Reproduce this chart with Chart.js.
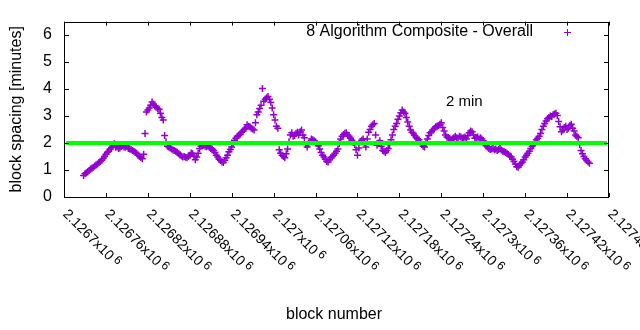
<!DOCTYPE html>
<html><head><meta charset="utf-8">
<script src="https://cdn.jsdelivr.net/npm/chart.js@4.4.0/dist/chart.umd.min.js"></script>
<style>html,body{margin:0;padding:0;background:#fff;}#wrap{width:640px;height:330px;}</style>
</head><body><div id="wrap"><canvas id="c" width="640" height="330"></canvas></div>
<script>
// ---- data ----
const firstBlock = 2126728;
const blockStep = 2;
const spacingMinutes = [
0.80,0.86,0.90,0.93,0.98,1.04,1.07,1.10,1.15,1.19,
1.22,1.28,1.32,1.36,1.43,1.50,1.58,1.66,1.70,1.78,
1.83,1.88,1.97,1.84,1.86,1.80,1.82,1.87,1.90,1.85,
1.84,1.94,1.80,1.78,1.76,1.72,1.70,1.66,1.62,1.55,
1.50,1.46,1.42,1.58,2.35,3.15,3.22,3.30,3.40,3.52,
3.45,3.38,3.33,3.28,3.25,3.10,2.95,2.85,2.28,2.05,
1.88,1.85,1.82,1.78,1.74,1.72,1.70,1.66,1.60,1.56,
1.52,1.48,1.50,1.47,1.45,1.50,1.55,1.63,1.60,1.52,
1.38,1.48,1.62,1.80,1.88,1.95,1.92,1.88,1.86,1.90,
1.84,1.80,1.78,1.72,1.65,1.55,1.48,1.40,1.35,1.30,
1.28,1.36,1.45,1.55,1.68,1.76,1.85,1.98,2.10,2.18,
2.25,2.28,2.32,2.40,2.45,2.50,2.55,2.68,2.62,2.60,
2.55,2.52,2.48,2.75,3.05,3.15,3.28,3.40,4.02,3.55,
3.62,3.68,3.72,3.62,3.50,3.30,3.05,2.85,2.62,2.55,
1.75,1.62,1.55,1.50,1.45,1.60,1.78,2.05,2.30,2.38,
2.25,2.28,2.35,2.40,2.30,2.42,2.48,2.30,2.20,1.95,
1.85,1.98,2.05,2.15,2.12,2.08,2.05,1.98,1.90,1.78,
1.65,1.55,1.48,1.40,1.32,1.30,1.38,1.45,1.50,1.55,
1.62,1.70,1.78,1.98,2.15,2.25,2.32,2.36,2.38,2.30,
2.25,2.18,2.10,2.02,1.95,1.75,1.55,1.82,2.05,2.10,
2.15,2.00,1.85,2.15,2.40,2.50,2.62,2.68,2.72,2.30,
1.92,2.00,2.08,1.88,1.72,1.70,1.65,1.72,1.80,1.95,
2.12,2.30,2.50,2.62,2.72,2.88,3.00,3.12,3.22,3.15,
3.10,2.95,2.78,2.62,2.48,2.40,2.35,2.28,2.20,2.15,
2.12,2.05,1.95,1.88,1.85,2.00,2.15,2.28,2.38,2.42,
2.48,2.55,2.60,2.62,2.65,2.70,2.75,2.58,2.45,2.30,
2.22,2.20,2.18,2.12,2.15,2.20,2.25,2.20,2.18,2.25,
2.22,2.18,2.20,2.22,2.15,2.28,2.38,2.45,2.42,2.30,
2.18,2.20,2.22,2.15,2.20,2.15,2.08,1.98,1.90,1.85,
1.80,1.76,1.78,1.80,1.75,1.78,1.72,1.76,1.80,1.74,
1.70,1.68,1.65,1.62,1.58,1.52,1.48,1.40,1.32,1.22,
1.12,1.10,1.18,1.24,1.30,1.38,1.48,1.55,1.62,1.70,
1.80,1.88,1.95,2.02,2.12,2.18,2.25,2.35,2.50,2.62,
2.72,2.82,2.90,2.95,3.00,2.98,3.05,3.08,3.10,3.02,
2.80,2.60,2.42,2.48,2.58,2.62,2.50,2.55,2.65,2.70,
2.55,2.45,2.30,2.25,2.20,1.95,1.72,1.60,1.50,1.42,
1.35,1.30,1.25
];
const targetMinutes = 2;
const targetLabel = '2 min';
const seriesLabel = '8 Algorithm Composite - Overall';
const xMin = 2126700, xMax = 2127480;
const xTickValues = [2126700,2126760,2126820,2126880,2126940,2127000,2127060,2127120,2127180,2127240,2127300,2127360,2127420,2127480];
const xTickLabels = ['2.1267','2.12676','2.12682','2.12688','2.12694','2.127','2.12706','2.12712','2.12718','2.12724','2.1273','2.12736','2.12742','2.12748'];
const yTickValues = [0,1,2,3,4,5,6];
const yMin = 0, yMax = 6.5;
const xTitle = 'block number';
const yTitle = 'block spacing [minutes]';

const FONT = "'Liberation Sans', Arial, sans-serif";
const PURPLE = '#9400d3';

const points = spacingMinutes.map((v, i) => ({x: firstBlock + i * blockStep, y: v}));

const decor = {
  id: 'decor',
  afterDraw(chart) {
    const ctx = chart.ctx, a = chart.chartArea;
    const xs = chart.scales.x, ys = chart.scales.y;
    ctx.save();
    ctx.strokeStyle = '#000';
    ctx.lineWidth = 1;
    ctx.strokeRect(Math.round(a.left) + 0.5, Math.round(a.top) + 0.5, Math.round(a.right - a.left) - 1, Math.round(a.bottom - a.top));
    ctx.beginPath();
    yTickValues.forEach(v => {
      const y = Math.round(ys.getPixelForValue(v)) + 0.5;
      ctx.moveTo(a.left, y); ctx.lineTo(a.left + 5, y);
      ctx.moveTo(a.right, y); ctx.lineTo(a.right - 5, y);
    });
    xTickValues.forEach(v => {
      const x = Math.round(xs.getPixelForValue(v)) + 0.5;
      ctx.moveTo(x, a.bottom); ctx.lineTo(x, a.bottom - 4);
      ctx.moveTo(x, a.top); ctx.lineTo(x, a.top + 4);
    });
    ctx.stroke();
    // x tick labels rotated
    ctx.fillStyle = '#000';
    xTickValues.forEach((v, i) => {
      const x = xs.getPixelForValue(v);
      ctx.save();
      ctx.translate(x + 1, a.bottom + 15);
      ctx.rotate(Math.PI / 4);
      ctx.textAlign = 'left';
      ctx.textBaseline = 'middle';
      ctx.font = '14px ' + FONT;
      const main = xTickLabels[i] + 'x10';
      ctx.fillText(main, 0, 0);
      const w = ctx.measureText(main + ' ').width;
      ctx.font = '12px ' + FONT;
      ctx.fillText('6', w - 1, -3);
      ctx.restore();
    });
    // titles
    ctx.font = '16px ' + FONT;
    ctx.textAlign = 'center';
    ctx.textBaseline = 'middle';
    ctx.fillText(xTitle, 334, 315);
    ctx.save();
    ctx.translate(17, (a.top + a.bottom) / 2);
    ctx.rotate(-Math.PI / 2);
    ctx.fillText(yTitle, 0, 0);
    ctx.restore();
    // legend
    ctx.textAlign = 'right';
    ctx.fillText(seriesLabel, 533, 32);
    ctx.strokeStyle = PURPLE;
    ctx.beginPath();
    ctx.moveTo(564, 32.5); ctx.lineTo(571, 32.5);
    ctx.moveTo(567.5, 29); ctx.lineTo(567.5, 36);
    ctx.stroke();
    // target label
    ctx.textAlign = 'left';
    ctx.fillStyle = '#000';
    ctx.font = '15px ' + FONT;
    ctx.fillText(targetLabel, 446, 102);
    ctx.restore();
  }
};

new Chart(document.getElementById('c'), {
  type: 'scatter',
  data: {
    datasets: [
      {
        type: 'line',
        label: targetLabel,
        data: [{x: xMin + 3, y: targetMinutes}, {x: xMax - 3, y: targetMinutes}],
        borderColor: '#00ff00',
        borderWidth: 4,
        pointRadius: 0,
        fill: false,
        order: 0
      },
      {
        label: seriesLabel,
        data: points,
        showLine: false,
        pointStyle: 'cross',
        pointRadius: 3.5,
        pointHoverRadius: 3.5,
        borderColor: PURPLE,
        backgroundColor: PURPLE,
        borderWidth: 1.5,
        order: 1
      }
    ]
  },
  options: {
    responsive: false,
    animation: false,
    devicePixelRatio: 1,
    layout: {padding: {left: 0, top: 19, right: 31, bottom: 0}},
    plugins: {legend: {display: false}, tooltip: {enabled: false}},
    events: [],
    scales: {
      x: {
        type: 'linear', min: xMin, max: xMax,
        ticks: {display: false},
        grid: {display: false, drawTicks: false},
        border: {display: false},
        afterFit(s) { s.height = 133; }
      },
      y: {
        type: 'linear', min: yMin, max: yMax,
        afterBuildTicks(s) { s.ticks = yTickValues.map(v => ({value: v})); },
        ticks: {font: {family: FONT, size: 16}, color: '#000', padding: 12},
        grid: {display: false, drawTicks: false},
        border: {display: false},
        afterFit(s) { s.width = 64; }
      }
    }
  },
  plugins: [decor]
});
</script>
</body></html>
